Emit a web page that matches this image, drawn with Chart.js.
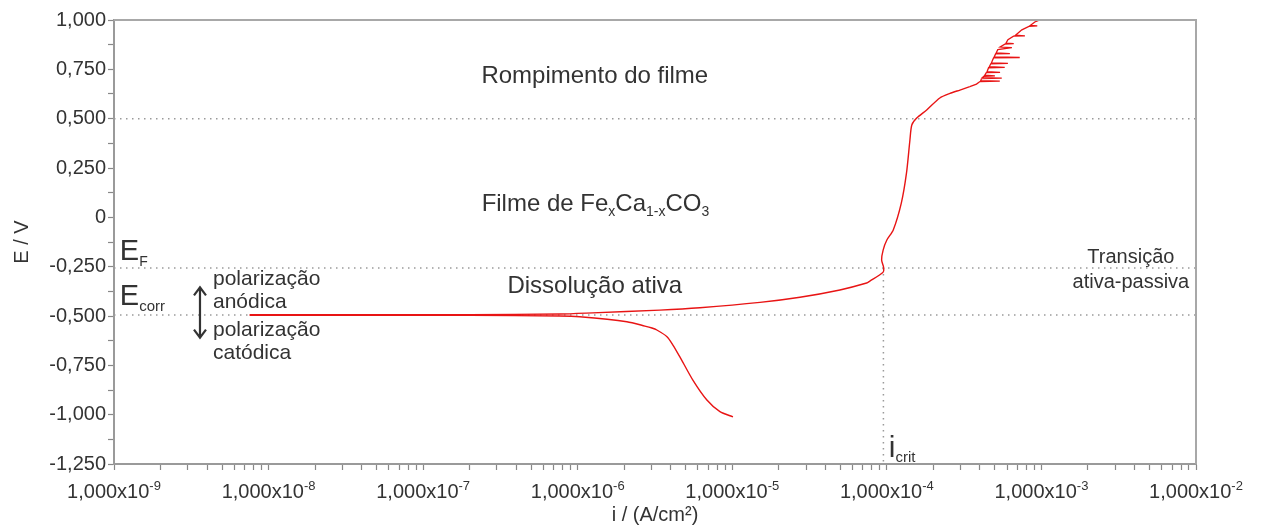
<!DOCTYPE html>
<html>
<head>
<meta charset="utf-8">
<script src="https://cdn.jsdelivr.net/npm/chart.js@4.4.1/dist/chart.umd.min.js"></script>
<style>
    html, body { margin: 0; padding: 0; background: #fff; }
</style>
</head>
<body>
<canvas id="myChart" width="1270" height="529"></canvas>
<script>
// polarization curve, one sweep: cathodic end (-1 V) -> Ecorr -> passive region
const currentDensity = [
    1.01e-5, 8.32e-6, 6.85e-6, 5.56e-6, 4.58e-6, 4.13e-6, 3.78e-6, 3.25e-6, 3.02e-6, 2.72e-6,
    2.08e-6, 1.03e-6, 7.67e-7, 2.01e-7, 7.6e-9,
    7.6e-9, 2.0e-7, 7.7e-7, 1.25e-6, 3.40e-6, 6.17e-6, 1.51e-5, 2.74e-5, 4.97e-5, 7.40e-5,
    7.76e-5, 9.42e-5, 9.55e-5, 9.25e-5, 9.46e-5, 1.0e-4, 1.10e-4, 1.24e-4, 1.34e-4, 1.41e-4,
    1.45e-4, 1.56e-4, 1.81e-4, 2.20e-4, 2.56e-4, 2.97e-4, 3.44e-4
];
const potential = [
    -1.011, -0.985, -0.926, -0.825, -0.707, -0.647, -0.605, -0.571, -0.561, -0.551,
    -0.529, -0.504, -0.500, -0.497, -0.496,
    -0.494, -0.493, -0.490, -0.484, -0.470, -0.458, -0.431, -0.405, -0.368, -0.333,
    -0.323, -0.280, -0.257, -0.216, -0.166, -0.115, -0.064, 0.072, 0.225, 0.392,
    0.468, 0.503, 0.544, 0.605, 0.628, 0.645, 0.662
];

// film breakdown region (noisy), continues from the last point above
const breakdownCurrent = [
    3.44e-4, 3.80e-4, 4.00e-4, 5.38e-4, 4.05e-4, 4.10e-4, 5.54e-4, 4.15e-4, 4.25e-4, 5.00e-4,
    4.30e-4, 4.40e-4, 5.40e-4, 4.45e-4, 4.55e-4, 5.79e-4, 4.60e-4, 4.70e-4, 6.07e-4, 4.75e-4,
    4.90e-4, 7.24e-4, 4.95e-4, 5.05e-4, 6.25e-4, 5.10e-4, 5.22e-4, 6.44e-4, 5.40e-4, 5.80e-4,
    6.62e-4, 5.90e-4, 6.07e-4, 6.60e-4, 7.82e-4, 6.80e-4, 7.47e-4, 8.30e-4, 9.40e-4, 8.50e-4,
    9.06e-4, 9.77e-4
];
const breakdownPotential = [
    0.662, 0.675, 0.688, 0.690, 0.693, 0.703, 0.705, 0.708, 0.715, 0.717,
    0.720, 0.733, 0.735, 0.738, 0.758, 0.760, 0.763, 0.778, 0.780, 0.783,
    0.808, 0.810, 0.813, 0.828, 0.830, 0.833, 0.850, 0.860, 0.863, 0.878,
    0.880, 0.883, 0.900, 0.918, 0.920, 0.923, 0.950, 0.968, 0.970, 0.973,
    0.990, 1.000
];

// axis ticks
const xTickExponents = [-9, -8, -7, -6, -5, -4, -3, -2];
const yTickValues = [1, 0.75, 0.5, 0.25, 0, -0.25, -0.5, -0.75, -1, -1.25];

// reference (dotted) levels
const refPotentials = [0.5, -0.257, -0.495];
const iCrit = 9.5e-5;
const eF = -0.257;

const fontFamily = "'Liberation Sans', Arial, sans-serif";
const textColor = '#333';
const curveColor = 'rgb(232, 20, 20)';
const xMin = Math.pow(10, xTickExponents[0]);
const xMax = Math.pow(10, xTickExponents[xTickExponents.length - 1]);
const yMin = yTickValues[yTickValues.length - 1];
const yMax = yTickValues[0];

// text on the plot, placed in data units; parts = [text, font size, baseline shift]
const annotations = [
    { i: 1.29e-6, e: 0.681, align: 'center', parts: [['Rompimento do filme', 24, 0]] },
    { i: 2.39e-7, e: 0.032, align: 'left', parts: [['Filme de Fe', 24, 0], ['x', 14, 5], ['Ca', 24, 0], ['1-x', 14, 5], ['CO', 24, 0], ['3', 14, 5]] },
    { i: 1.29e-6, e: -0.384, align: 'center', parts: [['Dissolução ativa', 24, 0]] },
    { i: 3.79e-3, e: -0.232, align: 'center', parts: [['Transição', 20, 0]] },
    { i: 3.79e-3, e: -0.358, align: 'center', parts: [['ativa-passiva', 20, 0]] },
    { i: 1.09e-9, e: -0.216, align: 'left', parts: [['E', 29, 0], ['F', 14, 6]] },
    { i: 1.09e-9, e: -0.444, align: 'left', parts: [['E', 29, 0], ['corr', 15, 6]] },
    { i: 4.37e-9, e: -0.343, align: 'left', parts: [['polarização', 21, 0]] },
    { i: 4.37e-9, e: -0.460, align: 'left', parts: [['anódica', 21, 0]] },
    { i: 4.37e-9, e: -0.602, align: 'left', parts: [['polarização', 21, 0]] },
    { i: 4.37e-9, e: -0.718, align: 'left', parts: [['catódica', 21, 0]] },
    { i: 1.03e-4, e: -1.215, align: 'left', parts: [['i', 30, 0], ['crit', 15, 5]] }
];
const arrow = { i: 3.6e-9, eTop: -0.355, eBottom: -0.610 };

function dottedLine(points) {
    return {
        data: points,
        showLine: true,
        borderColor: '#9a9a9a',
        borderWidth: 1.5,
        borderDash: [1.5, 4.5],
        pointRadius: 0,
        fill: false
    };
}

const datasets = [{
    label: 'E vs i',
    data: currentDensity.map((v, k) => ({ x: v, y: potential[k] })),
    showLine: true,
    borderColor: curveColor,
    borderWidth: 1.4,
    pointRadius: 0,
    tension: 0.25,
    fill: false
}, {
    label: 'breakdown',
    data: breakdownCurrent.map((v, k) => ({ x: v, y: breakdownPotential[k] })),
    showLine: true,
    borderColor: curveColor,
    borderWidth: 1.3,
    pointRadius: 0,
    tension: 0,
    fill: false
}];
refPotentials.forEach(e => datasets.push(dottedLine([{ x: xMin, y: e }, { x: xMax, y: e }])));
datasets.push(dottedLine([{ x: iCrit, y: eF }, { x: iCrit, y: yMin }]));

function formatPotential(v) {
    if (Math.abs(v) < 1e-9) return '0';
    return v.toFixed(3).replace('.', ',');
}

function drawParts(ctx, parts, x, y, align) {
    let total = 0;
    parts.forEach(p => {
        ctx.font = p[1] + 'px ' + fontFamily;
        total += ctx.measureText(p[0]).width;
    });
    let left = align === 'center' ? x - total / 2 : x;
    parts.forEach(p => {
        ctx.font = p[1] + 'px ' + fontFamily;
        ctx.fillText(p[0], left, y + p[2]);
        left += ctx.measureText(p[0]).width;
    });
}

const overlayPlugin = {
    id: 'overlay',
    afterDraw(chart) {
        const ctx = chart.ctx;
        const xs = chart.scales.x;
        const ys = chart.scales.y;
        const area = chart.chartArea;
        ctx.save();

        // top and right frame
        ctx.strokeStyle = '#a8a8a8';
        ctx.lineWidth = 2;
        ctx.beginPath();
        ctx.moveTo(area.left, area.top);
        ctx.lineTo(area.right, area.top);
        ctx.lineTo(area.right, area.bottom);
        ctx.stroke();

        ctx.fillStyle = textColor;
        ctx.textBaseline = 'alphabetic';

        // x tick labels 1,000x10^n
        xTickExponents.forEach(e => {
            const px = xs.getPixelForValue(Math.pow(10, e));
            drawParts(ctx, [['1,000x10', 20, 0], [String(e), 13, -8]], px, area.bottom + 34, 'center');
        });

        annotations.forEach(a => {
            drawParts(ctx, a.parts, xs.getPixelForValue(a.i), ys.getPixelForValue(a.e), a.align);
        });

        // double arrow between the polarization labels
        const ax = xs.getPixelForValue(arrow.i);
        const top = ys.getPixelForValue(arrow.eTop);
        const bottom = ys.getPixelForValue(arrow.eBottom);
        ctx.strokeStyle = textColor;
        ctx.lineWidth = 2.2;
        ctx.beginPath();
        ctx.moveTo(ax, top);
        ctx.lineTo(ax, bottom);
        ctx.moveTo(ax - 6, top + 8);
        ctx.lineTo(ax, top);
        ctx.lineTo(ax + 6, top + 8);
        ctx.moveTo(ax - 6, bottom - 8);
        ctx.lineTo(ax, bottom);
        ctx.lineTo(ax + 6, bottom - 8);
        ctx.stroke();

        ctx.restore();
    }
};

const ctx = document.getElementById('myChart').getContext('2d');
const myChart = new Chart(ctx, {
    type: 'scatter',
    data: { datasets: datasets },
    options: {
        responsive: false,
        animation: false,
        layout: { padding: { top: 20, right: 74, left: 0, bottom: 0 } },
        plugins: {
            legend: { display: false },
            tooltip: { enabled: false }
        },
        scales: {
            x: {
                type: 'logarithmic',
                min: xMin,
                max: xMax,
                afterBuildTicks: (scale) => {
                    const ticks = [];
                    xTickExponents.forEach((e, k) => {
                        const last = k === xTickExponents.length - 1;
                        for (let m = 1; m <= (last ? 1 : 9); m++) {
                            ticks.push({ value: m * Math.pow(10, e) });
                        }
                    });
                    scale.ticks = ticks;
                },
                afterFit: (scale) => { scale.height = 65; },
                ticks: { autoSkip: false, maxRotation: 0, callback: () => '' },
                grid: {
                    drawOnChartArea: false,
                    drawTicks: true,
                    tickLength: 6,
                    tickColor: '#888',
                    tickWidth: 1.2
                },
                border: { display: true, color: '#9a9a9a', width: 2 },
                title: {
                    display: true,
                    text: 'i / (A/cm²)',
                    color: textColor,
                    font: { family: fontFamily, size: 20 },
                    padding: { top: 0, bottom: 2 }
                }
            },
            y: {
                type: 'linear',
                min: yMin,
                max: yMax,
                afterBuildTicks: (scale) => {
                    const ticks = [];
                    for (let k = yTickValues.length - 1; k >= 0; k--) {
                        ticks.push({ value: yTickValues[k] });
                        if (k > 0) ticks.push({ value: (yTickValues[k] + yTickValues[k - 1]) / 2 });
                    }
                    scale.ticks = ticks;
                },
                afterFit: (scale) => { scale.width = 114; },
                ticks: {
                    autoSkip: false,
                    color: textColor,
                    padding: 2,
                    font: { family: fontFamily, size: 20 },
                    callback: (value) => yTickValues.includes(value) ? formatPotential(value) : ''
                },
                grid: {
                    drawOnChartArea: false,
                    drawTicks: true,
                    tickLength: 6,
                    tickColor: '#888',
                    tickWidth: 1.2
                },
                border: { display: true, color: '#9a9a9a', width: 2 },
                title: {
                    display: true,
                    text: 'E / V',
                    color: textColor,
                    font: { family: fontFamily, size: 20 },
                    padding: { top: 10, bottom: 0 }
                }
            }
        }
    },
    plugins: [overlayPlugin]
});
</script>
</body>
</html>
